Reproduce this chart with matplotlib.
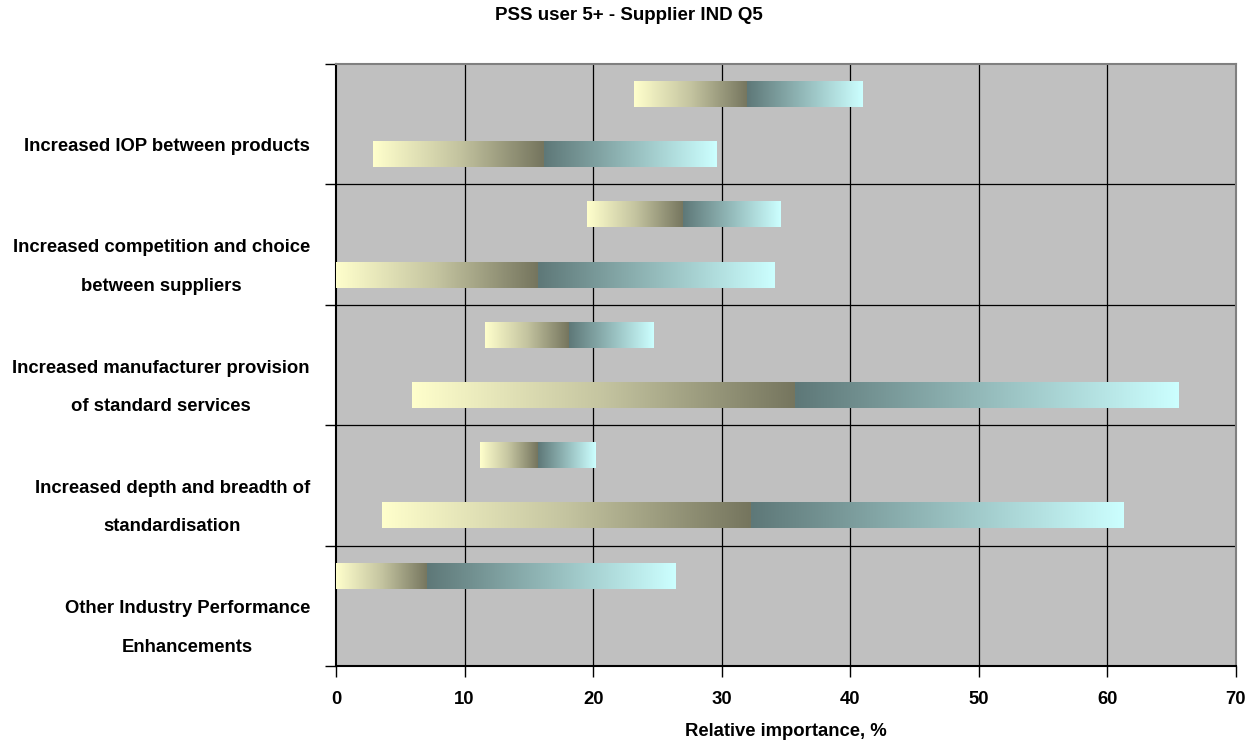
import numpy as np
import matplotlib.pyplot as plt
from matplotlib.colors import LinearSegmentedColormap

plt.rcParams['font.family'] = ['Liberation Sans', 'DejaVu Sans']

categories = ['Increased IOP between products',
              'Increased competition and choice\nbetween suppliers',
              'Increased manufacturer provision\nof standard services',
              'Increased depth and breadth of\nstandardisation',
              'Other Industry Performance\nEnhancements']

# upper bar of each category: start, middle, end
upper_start = [23.2, 19.5, 11.6, 11.2, 0.0]
upper_mid = [32.0, 27.0, 18.1, 15.7, 7.1]
upper_end = [41.0, 34.6, 24.7, 20.2, 26.4]

# lower bar of each category (last one has none)
lower_start = [2.9, 0.0, 5.9, 3.6, None]
lower_mid = [16.2, 15.7, 35.7, 32.3, None]
lower_end = [29.6, 34.1, 65.5, 61.3, None]

x_ticks = [0, 10, 20, 30, 40, 50, 60, 70]

cmap_left = LinearSegmentedColormap.from_list('left', ['#FFFFCC', '#C4C4A0', '#75755E'])
cmap_right = LinearSegmentedColormap.from_list('right', ['#5E7878', '#CCFFFF'])
grad = np.linspace(0, 1, 256).reshape(1, -1)

fig = plt.figure(figsize=(12.58, 7.42), dpi=100)
ax = fig.add_axes([336/1258, 76/742, 900/1258, 602/742])
ax.set_facecolor('#C0C0C0')

bar_h = 0.43


def draw_bar(row, x0, xm, x1):
    y0 = row + 0.5 - bar_h/2
    y1 = row + 0.5 + bar_h/2
    ax.imshow(grad, cmap=cmap_left, aspect='auto', extent=[x0, xm, y1, y0],
              zorder=3, interpolation='bilinear')
    ax.imshow(grad, cmap=cmap_right, aspect='auto', extent=[xm, x1, y1, y0],
              zorder=3, interpolation='bilinear')


for i in range(len(categories)):
    draw_bar(2*i, upper_start[i], upper_mid[i], upper_end[i])
    if lower_start[i] is not None:
        draw_bar(2*i + 1, lower_start[i], lower_mid[i], lower_end[i])

ax.set_xlim(0, 70)
ax.set_ylim(10, 0)
ax.set_xticks(x_ticks)
ax.set_xticklabels([str(t) for t in x_ticks], fontsize=13.3, fontweight='bold')
ax.set_yticks([0, 2, 4, 6, 8, 10])
ax.set_yticklabels([])
ax.tick_params(axis='x', direction='out', length=8, width=1, pad=10, color='black')
ax.tick_params(axis='y', direction='out', length=8, width=1, color='black')

for t in x_ticks[1:-1]:
    ax.axvline(t, color='black', lw=0.9, zorder=1)
for b in [2, 4, 6, 8]:
    ax.axhline(b, color='black', lw=0.9, zorder=1)

ax.spines['left'].set_color('black')
ax.spines['bottom'].set_color('black')
ax.spines['top'].set_color('#808080')
ax.spines['right'].set_color('#808080')
for s in ax.spines.values():
    s.set_linewidth(1.5)

trans = ax.get_yaxis_transform()
for i, lab in enumerate(categories):
    ax.text(-26/900, 2*i + 1.37, lab, transform=trans, ha='right', va='center',
            multialignment='center', fontsize=13.3, fontweight='bold',
            linespacing=2.65)

ax.set_xlabel('Relative importance, %', fontsize=13.3, fontweight='bold', labelpad=11)
fig.text(0.5, 1 - 15/742, 'PSS user 5+ - Supplier IND Q5', ha='center', va='center',
         fontsize=13.5, fontweight='bold')

fig.savefig('out.png', dpi=100)
